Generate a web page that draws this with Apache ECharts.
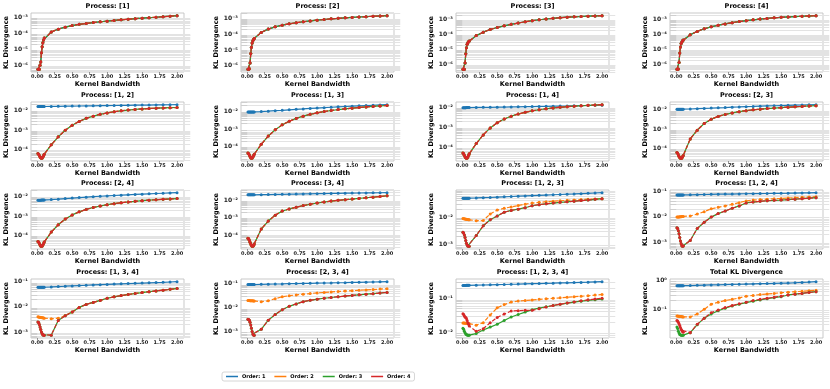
<!DOCTYPE html>
<html>
<head>
<meta charset="utf-8">
<script src="https://cdn.jsdelivr.net/npm/echarts@6/dist/echarts.min.js"></script>
<style>
  html, body { margin: 0; padding: 0; background: #fff; }
  #chart { width: 830px; height: 389px; }
</style>
</head>
<body>
<div id="chart"></div>
<script>
// kernel bandwidths (x)
const bandwidth = [0.01, 0.02, 0.03, 0.04, 0.05, 0.06, 0.07, 0.08, 0.09, 0.1,
  0.2, 0.3, 0.4, 0.5, 0.6, 0.7, 0.8, 0.9, 1.0, 1.1, 1.2, 1.3, 1.4, 1.5, 1.6, 1.7, 1.8, 1.9, 2.0];
const xTicks = [0, 0.25, 0.5, 0.75, 1, 1.25, 1.5, 1.75, 2];
const orderNames = ['Order: 1', 'Order: 2', 'Order: 3', 'Order: 4'];

// single processes: every order gives the same divergence
const p1 = [5.5e-7, 5.5e-7, 5.5e-7, 1.0e-6, 1.6e-6, 6e-6, 1.4e-5, 2.5e-5, 3.8e-5, 5e-5,
  1.2e-4, 1.8e-4, 2.4e-4, 3.0e-4, 3.6e-4, 4.1e-4, 4.6e-4, 5.2e-4, 5.7e-4, 6.3e-4, 6.9e-4, 7.5e-4, 8.1e-4, 8.7e-4, 9.4e-4, 1.0e-3, 1.08e-3, 1.16e-3, 1.25e-3];
const p2 = [6e-7, 6e-7, 6.5e-7, 1.5e-6, 6e-6, 1.5e-5, 2.8e-5, 3.8e-5, 4.6e-5, 5.4e-5,
  1.3e-4, 2.1e-4, 2.9e-4, 3.7e-4, 4.5e-4, 5.3e-4, 6.1e-4, 6.9e-4, 7.7e-4, 8.5e-4, 9.3e-4, 1.0e-3, 1.08e-3, 1.15e-3, 1.22e-3, 1.29e-3, 1.36e-3, 1.42e-3, 1.48e-3];
const p3 = [4.5e-7, 4.5e-7, 4.6e-7, 1.2e-6, 5e-6, 1.3e-5, 2.2e-5, 2.8e-5, 3.3e-5, 3.7e-5,
  8.5e-5, 1.45e-4, 2.2e-4, 3.0e-4, 3.9e-4, 4.9e-4, 6.0e-4, 7.3e-4, 8.6e-4, 1.0e-3, 1.12e-3, 1.25e-3, 1.37e-3, 1.48e-3, 1.58e-3, 1.66e-3, 1.73e-3, 1.8e-3, 1.88e-3];
const p4 = [5e-7, 5e-7, 5.2e-7, 1.4e-6, 6e-6, 1.5e-5, 2.5e-5, 3.2e-5, 3.8e-5, 4.3e-5,
  9.5e-5, 1.6e-4, 2.4e-4, 3.2e-4, 4.1e-4, 5.0e-4, 6.0e-4, 7.1e-4, 8.2e-4, 9.3e-4, 1.04e-3, 1.15e-3, 1.25e-3, 1.35e-3, 1.44e-3, 1.52e-3, 1.6e-3, 1.67e-3, 1.74e-3];

// pairs: order 1, then orders 2-4 (identical)
const p12_o1 = [1.6e-2, 1.6e-2, 1.6e-2, 1.6e-2, 1.6e-2, 1.6e-2, 1.61e-2, 1.61e-2, 1.61e-2, 1.61e-2,
  1.63e-2, 1.65e-2, 1.67e-2, 1.69e-2, 1.71e-2, 1.73e-2, 1.75e-2, 1.77e-2, 1.79e-2, 1.81e-2, 1.83e-2, 1.85e-2, 1.87e-2, 1.89e-2, 1.91e-2, 1.93e-2, 1.95e-2, 1.97e-2, 1.99e-2];
const p12_o2 = [6.5e-5, 6e-5, 5e-5, 4.3e-5, 3.9e-5, 3.7e-5, 3.8e-5, 4.3e-5, 5e-5, 6e-5,
  1.8e-4, 4.6e-4, 1.0e-3, 1.8e-3, 2.8e-3, 4.0e-3, 5.2e-3, 6.4e-3, 7.6e-3, 8.7e-3, 9.7e-3, 1.06e-2, 1.14e-2, 1.21e-2, 1.27e-2, 1.32e-2, 1.36e-2, 1.4e-2, 1.43e-2];
const p13_o1 = [8.8e-3, 8.8e-3, 8.8e-3, 8.8e-3, 8.8e-3, 8.9e-3, 8.9e-3, 8.9e-3, 9.0e-3, 9.0e-3,
  9.4e-3, 9.9e-3, 1.05e-2, 1.11e-2, 1.18e-2, 1.25e-2, 1.32e-2, 1.4e-2, 1.48e-2, 1.56e-2, 1.64e-2, 1.72e-2, 1.8e-2, 1.88e-2, 1.96e-2, 2.04e-2, 2.12e-2, 2.2e-2, 2.28e-2];
const p13_o2 = [4.6e-5, 4.2e-5, 3.5e-5, 2.9e-5, 2.5e-5, 2.3e-5, 2.4e-5, 2.7e-5, 3.2e-5, 3.9e-5,
  1.4e-4, 4.0e-4, 9.0e-4, 1.7e-3, 2.7e-3, 3.9e-3, 5.2e-3, 6.6e-3, 8.0e-3, 9.4e-3, 1.08e-2, 1.21e-2, 1.34e-2, 1.46e-2, 1.58e-2, 1.7e-2, 1.82e-2, 1.94e-2, 2.05e-2];
const p14_o1 = [9.5e-3, 9.5e-3, 9.5e-3, 9.5e-3, 9.5e-3, 9.6e-3, 9.6e-3, 9.6e-3, 9.6e-3, 9.6e-3,
  9.7e-3, 9.8e-3, 9.9e-3, 1.0e-2, 1.01e-2, 1.03e-2, 1.04e-2, 1.06e-2, 1.07e-2, 1.09e-2, 1.1e-2, 1.12e-2, 1.14e-2, 1.15e-2, 1.17e-2, 1.19e-2, 1.21e-2, 1.23e-2, 1.25e-2];
const p14_o2 = [5.5e-5, 5e-5, 4.2e-5, 3.6e-5, 3.2e-5, 3.0e-5, 3.1e-5, 3.5e-5, 4.2e-5, 5e-5,
  1.6e-4, 4.3e-4, 9.5e-4, 1.7e-3, 2.6e-3, 3.6e-3, 4.6e-3, 5.6e-3, 6.6e-3, 7.5e-3, 8.4e-3, 9.2e-3, 9.9e-3, 1.06e-2, 1.12e-2, 1.18e-2, 1.23e-2, 1.28e-2, 1.33e-2];
const p23_o1 = [1.07e-2, 1.07e-2, 1.07e-2, 1.07e-2, 1.07e-2, 1.08e-2, 1.08e-2, 1.08e-2, 1.08e-2, 1.08e-2,
  1.11e-2, 1.15e-2, 1.19e-2, 1.23e-2, 1.28e-2, 1.32e-2, 1.37e-2, 1.41e-2, 1.46e-2, 1.5e-2, 1.55e-2, 1.59e-2, 1.63e-2, 1.67e-2, 1.71e-2, 1.75e-2, 1.78e-2, 1.82e-2, 1.85e-2];
const p23_o2 = [6.3e-5, 5.8e-5, 4.8e-5, 4.0e-5, 3.5e-5, 3.2e-5, 3.2e-5, 3.3e-5, 3.8e-5, 4.5e-5,
  3.2e-4, 9.0e-4, 2.0e-3, 3.3e-3, 4.6e-3, 5.8e-3, 7.0e-3, 8.1e-3, 9.1e-3, 1.0e-2, 1.08e-2, 1.16e-2, 1.23e-2, 1.3e-2, 1.37e-2, 1.44e-2, 1.51e-2, 1.58e-2, 1.65e-2];
const p24_o1 = [6.5e-3, 6.5e-3, 6.5e-3, 6.5e-3, 6.5e-3, 6.6e-3, 6.6e-3, 6.6e-3, 6.6e-3, 6.6e-3,
  7.0e-3, 7.4e-3, 7.9e-3, 8.4e-3, 8.9e-3, 9.4e-3, 9.9e-3, 1.04e-2, 1.09e-2, 1.14e-2, 1.19e-2, 1.24e-2, 1.29e-2, 1.34e-2, 1.39e-2, 1.44e-2, 1.49e-2, 1.54e-2, 1.59e-2];
const p24_o2 = [5e-5, 4.6e-5, 3.9e-5, 3.3e-5, 2.9e-5, 2.8e-5, 2.9e-5, 3.3e-5, 3.9e-5, 4.6e-5,
  1.5e-4, 3.6e-4, 7.0e-4, 1.15e-3, 1.65e-3, 2.2e-3, 2.75e-3, 3.3e-3, 3.85e-3, 4.35e-3, 4.85e-3, 5.3e-3, 5.75e-3, 6.15e-3, 6.55e-3, 6.9e-3, 7.25e-3, 7.6e-3, 7.9e-3];
const p34_o1 = [2.1e-2, 2.1e-2, 2.1e-2, 2.1e-2, 2.1e-2, 2.11e-2, 2.11e-2, 2.11e-2, 2.11e-2, 2.11e-2,
  2.14e-2, 2.18e-2, 2.22e-2, 2.26e-2, 2.3e-2, 2.34e-2, 2.38e-2, 2.42e-2, 2.46e-2, 2.5e-2, 2.54e-2, 2.58e-2, 2.62e-2, 2.65e-2, 2.68e-2, 2.71e-2, 2.74e-2, 2.77e-2, 2.8e-2];
const p34_o2 = [6.5e-5, 6e-5, 5e-5, 3.8e-5, 3.0e-5, 2.5e-5, 2.2e-5, 2.2e-5, 2.5e-5, 3.0e-5,
  2.2e-4, 6.4e-4, 1.4e-3, 2.4e-3, 3.2e-3, 4.0e-3, 5.0e-3, 6.0e-3, 7.1e-3, 8.1e-3, 9.1e-3, 1.01e-2, 1.1e-2, 1.2e-2, 1.31e-2, 1.42e-2, 1.54e-2, 1.68e-2, 1.85e-2];

// triples: order 1, order 2, orders 3-4 (identical)
const p123_o1 = [4.9e-2, 4.9e-2, 4.9e-2, 4.9e-2, 4.9e-2, 4.92e-2, 4.92e-2, 4.92e-2, 4.92e-2, 4.92e-2,
  5.0e-2, 5.1e-2, 5.2e-2, 5.35e-2, 5.5e-2, 5.65e-2, 5.8e-2, 5.95e-2, 6.1e-2, 6.25e-2, 6.4e-2, 6.55e-2, 6.7e-2, 6.85e-2, 7.0e-2, 7.2e-2, 7.4e-2, 7.6e-2, 7.8e-2];
const p123_o2 = [8.8e-3, 8.7e-3, 8.6e-3, 8.5e-3, 8.4e-3, 8.3e-3, 8.2e-3, 8.1e-3, 8.0e-3, 7.9e-3,
  7.4e-3, 7.5e-3, 1.3e-2, 1.8e-2, 2.1e-2, 2.35e-2, 2.65e-2, 2.95e-2, 3.25e-2, 3.45e-2, 3.65e-2, 3.8e-2, 3.95e-2, 4.1e-2, 4.25e-2, 4.35e-2, 4.5e-2, 4.6e-2, 4.7e-2];
const p123_o3 = [2.8e-3, 2.6e-3, 2.2e-3, 1.8e-3, 1.4e-3, 1.1e-3, 9.5e-4, 8.8e-4, 8.5e-4, 8.6e-4,
  2.1e-3, 4.8e-3, 8.0e-3, 1.1e-2, 1.5e-2, 1.75e-2, 1.95e-2, 2.2e-2, 2.6e-2, 2.85e-2, 3.05e-2, 3.25e-2, 3.45e-2, 3.6e-2, 3.8e-2, 4.0e-2, 4.2e-2, 4.45e-2, 4.7e-2];
const p124_o1 = [7.0e-2, 7.0e-2, 7.0e-2, 7.0e-2, 7.0e-2, 7.02e-2, 7.02e-2, 7.02e-2, 7.02e-2, 7.02e-2,
  7.1e-2, 7.2e-2, 7.3e-2, 7.4e-2, 7.5e-2, 7.55e-2, 7.6e-2, 7.7e-2, 7.8e-2, 7.85e-2, 7.9e-2, 8.0e-2, 8.1e-2, 8.15e-2, 8.2e-2, 8.3e-2, 8.4e-2, 8.5e-2, 8.6e-2];
const p124_o2 = [9.5e-3, 9.5e-3, 9.5e-3, 9.6e-3, 9.7e-3, 9.8e-3, 9.9e-3, 1.0e-2, 1.0e-2, 1.01e-2,
  1.05e-2, 1.25e-2, 1.55e-2, 2.0e-2, 2.3e-2, 2.6e-2, 3.0e-2, 3.5e-2, 4.1e-2, 4.4e-2, 4.6e-2, 4.8e-2, 4.95e-2, 5.1e-2, 5.3e-2, 5.5e-2, 5.7e-2, 5.85e-2, 6.0e-2];
const p124_o3 = [3.6e-3, 3.4e-3, 2.8e-3, 2.1e-3, 1.5e-3, 1.1e-3, 8.5e-4, 7.2e-4, 6.8e-4, 7.0e-4,
  1.15e-3, 3.4e-3, 6.0e-3, 9.5e-3, 1.3e-2, 1.65e-2, 2.1e-2, 2.6e-2, 3.4e-2, 3.7e-2, 3.95e-2, 4.15e-2, 4.3e-2, 4.4e-2, 4.6e-2, 4.8e-2, 5.0e-2, 5.25e-2, 5.5e-2];
const p134_o1 = [6.0e-2, 6.0e-2, 6.0e-2, 6.0e-2, 6.0e-2, 6.02e-2, 6.02e-2, 6.02e-2, 6.02e-2, 6.02e-2,
  6.2e-2, 6.4e-2, 6.6e-2, 6.8e-2, 7.0e-2, 7.2e-2, 7.4e-2, 7.6e-2, 7.8e-2, 8.0e-2, 8.2e-2, 8.4e-2, 8.6e-2, 8.8e-2, 9.0e-2, 9.2e-2, 9.4e-2, 9.7e-2, 1.0e-1];
const p134_o2 = [4.0e-3, 3.95e-3, 3.9e-3, 3.85e-3, 3.8e-3, 3.75e-3, 3.7e-3, 3.65e-3, 3.6e-3, 3.55e-3,
  3.4e-3, 3.5e-3, 4.5e-3, 6.3e-3, 9.5e-3, 1.25e-2, 1.5e-2, 1.8e-2, 2.2e-2, 2.5e-2, 2.8e-2, 3.1e-2, 3.4e-2, 3.7e-2, 4.0e-2, 4.3e-2, 4.6e-2, 4.95e-2, 5.3e-2];
const p134_o3 = [2.5e-3, 2.4e-3, 2.0e-3, 1.6e-3, 1.25e-3, 1.0e-3, 8.5e-4, 7.8e-4, 7.5e-4, 7.4e-4,
  7.5e-4, 2.9e-3, 4.4e-3, 6.3e-3, 9.5e-3, 1.25e-2, 1.5e-2, 1.8e-2, 2.2e-2, 2.5e-2, 2.8e-2, 3.1e-2, 3.4e-2, 3.7e-2, 4.0e-2, 4.3e-2, 4.6e-2, 5.0e-2, 5.4e-2];
const p234_o1 = [9.4e-2, 9.4e-2, 9.4e-2, 9.4e-2, 9.4e-2, 9.42e-2, 9.42e-2, 9.42e-2, 9.42e-2, 9.42e-2,
  9.6e-2, 9.75e-2, 9.9e-2, 1.0e-1, 1.02e-1, 1.03e-1, 1.05e-1, 1.06e-1, 1.08e-1, 1.09e-1, 1.1e-1, 1.12e-1, 1.13e-1, 1.15e-1, 1.16e-1, 1.18e-1, 1.2e-1, 1.22e-1, 1.24e-1];
const p234_o2 = [2.0e-2, 2.0e-2, 2.0e-2, 1.99e-2, 1.98e-2, 1.97e-2, 1.96e-2, 1.95e-2, 1.94e-2, 1.93e-2,
  1.8e-2, 1.95e-2, 2.4e-2, 2.9e-2, 3.2e-2, 3.45e-2, 3.7e-2, 3.95e-2, 4.2e-2, 4.4e-2, 4.6e-2, 4.8e-2, 5.0e-2, 5.2e-2, 5.4e-2, 5.6e-2, 5.8e-2, 6.05e-2, 6.3e-2];
const p234_o3 = [3.3e-3, 3.2e-3, 3.0e-3, 2.5e-3, 1.9e-3, 1.4e-3, 1.0e-3, 8.0e-4, 7.2e-4, 7.0e-4,
  1.25e-3, 3.0e-3, 5.2e-3, 8.3e-3, 1.15e-2, 1.45e-2, 1.8e-2, 2.05e-2, 2.3e-2, 2.5e-2, 2.7e-2, 2.9e-2, 3.1e-2, 3.3e-2, 3.5e-2, 3.7e-2, 3.9e-2, 4.15e-2, 4.4e-2];

// all four processes
const p1234_o1 = [2.4e-1, 2.4e-1, 2.4e-1, 2.4e-1, 2.4e-1, 2.41e-1, 2.41e-1, 2.41e-1, 2.41e-1, 2.41e-1,
  2.44e-1, 2.47e-1, 2.5e-1, 2.53e-1, 2.56e-1, 2.6e-1, 2.63e-1, 2.67e-1, 2.7e-1, 2.73e-1, 2.77e-1, 2.8e-1, 2.84e-1, 2.87e-1, 2.91e-1, 2.95e-1, 2.99e-1, 3.05e-1, 3.1e-1];
const p1234_o2 = [1.85e-2, 1.85e-2, 1.84e-2, 1.83e-2, 1.82e-2, 1.81e-2, 1.8e-2, 1.79e-2, 1.78e-2, 1.77e-2,
  1.6e-2, 1.9e-2, 3.2e-2, 5.2e-2, 6.5e-2, 7.7e-2, 8.3e-2, 8.6e-2, 8.9e-2, 9.3e-2, 9.6e-2, 1.0e-1, 1.03e-1, 1.07e-1, 1.11e-1, 1.15e-1, 1.19e-1, 1.24e-1, 1.3e-1];
const p1234_o3 = [1.3e-2, 1.2e-2, 1.05e-2, 9.5e-3, 8.8e-3, 8.4e-3, 8.2e-3, 8.0e-3, 8.0e-3, 8.0e-3,
  9.0e-3, 1.15e-2, 1.4e-2, 1.7e-2, 2.2e-2, 2.8e-2, 3.3e-2, 3.9e-2, 4.6e-2, 5.1e-2, 5.6e-2, 6.1e-2, 6.6e-2, 7.2e-2, 7.7e-2, 8.2e-2, 8.7e-2, 9.1e-2, 9.5e-2];
const p1234_o4 = [3.5e-2, 3.3e-2, 3.0e-2, 2.8e-2, 2.7e-2, 2.5e-2, 2.2e-2, 1.9e-2, 1.7e-2, 1.5e-2,
  1.05e-2, 1.25e-2, 1.9e-2, 2.7e-2, 3.4e-2, 4.2e-2, 4.3e-2, 4.4e-2, 4.4e-2, 4.9e-2, 5.5e-2, 6.1e-2, 6.7e-2, 7.2e-2, 7.8e-2, 8.4e-2, 9.0e-2, 9.5e-2, 1.0e-1];

// total
const total_o1 = [6.4e-1, 6.4e-1, 6.4e-1, 6.4e-1, 6.4e-1, 6.42e-1, 6.42e-1, 6.42e-1, 6.42e-1, 6.42e-1,
  6.5e-1, 6.6e-1, 6.7e-1, 6.8e-1, 6.9e-1, 7.0e-1, 7.1e-1, 7.2e-1, 7.3e-1, 7.4e-1, 7.5e-1, 7.6e-1, 7.7e-1, 7.8e-1, 7.9e-1, 8.1e-1, 8.3e-1, 8.5e-1, 8.8e-1];
const total_o2 = [5.9e-2, 5.9e-2, 5.85e-2, 5.8e-2, 5.75e-2, 5.7e-2, 5.65e-2, 5.6e-2, 5.55e-2, 5.5e-2,
  5.5e-2, 7.0e-2, 1.0e-1, 1.5e-1, 1.75e-1, 2.0e-1, 2.2e-1, 2.45e-1, 2.8e-1, 3.0e-1, 3.2e-1, 3.35e-1, 3.5e-1, 3.7e-1, 3.85e-1, 4.0e-1, 4.15e-1, 4.3e-1, 4.5e-1];
const total_o3 = [2.5e-2, 2.2e-2, 1.8e-2, 1.55e-2, 1.4e-2, 1.35e-2, 1.3e-2, 1.3e-2, 1.3e-2, 1.3e-2,
  1.6e-2, 3.0e-2, 5.0e-2, 7.0e-2, 9.0e-2, 1.1e-1, 1.3e-1, 1.5e-1, 1.7e-1, 1.9e-1, 2.1e-1, 2.3e-1, 2.5e-1, 2.7e-1, 3.1e-1, 3.3e-1, 3.5e-1, 3.8e-1, 4.0e-1];
const total_o4 = [4.2e-2, 4.0e-2, 3.6e-2, 3.2e-2, 2.8e-2, 2.4e-2, 2.1e-2, 1.9e-2, 1.75e-2, 1.65e-2,
  1.6e-2, 3.1e-2, 5.0e-2, 7.7e-2, 9.5e-2, 1.15e-1, 1.35e-1, 1.55e-1, 1.75e-1, 2.0e-1, 2.2e-1, 2.4e-1, 2.6e-1, 2.8e-1, 3.1e-1, 3.3e-1, 3.5e-1, 3.75e-1, 4.0e-1];

const panels = [
  { title: 'Process: [1]', lines: [p1, p1, p1, p1] },
  { title: 'Process: [2]', lines: [p2, p2, p2, p2] },
  { title: 'Process: [3]', lines: [p3, p3, p3, p3] },
  { title: 'Process: [4]', lines: [p4, p4, p4, p4] },
  { title: 'Process: [1, 2]', lines: [p12_o1, p12_o2, p12_o2, p12_o2] },
  { title: 'Process: [1, 3]', lines: [p13_o1, p13_o2, p13_o2, p13_o2] },
  { title: 'Process: [1, 4]', lines: [p14_o1, p14_o2, p14_o2, p14_o2] },
  { title: 'Process: [2, 3]', lines: [p23_o1, p23_o2, p23_o2, p23_o2] },
  { title: 'Process: [2, 4]', lines: [p24_o1, p24_o2, p24_o2, p24_o2] },
  { title: 'Process: [3, 4]', lines: [p34_o1, p34_o2, p34_o2, p34_o2] },
  { title: 'Process: [1, 2, 3]', lines: [p123_o1, p123_o2, p123_o3, p123_o3] },
  { title: 'Process: [1, 2, 4]', lines: [p124_o1, p124_o2, p124_o3, p124_o3] },
  { title: 'Process: [1, 3, 4]', lines: [p134_o1, p134_o2, p134_o3, p134_o3] },
  { title: 'Process: [2, 3, 4]', lines: [p234_o1, p234_o2, p234_o3, p234_o3] },
  { title: 'Process: [1, 2, 3, 4]', lines: [p1234_o1, p1234_o2, p1234_o3, p1234_o4] },
  { title: 'Total KL Divergence', lines: [total_o1, total_o2, total_o3, total_o4] }
];

const colors = ['#1f77b4', '#ff7f0e', '#2ca02c', '#d62728'];
const dashes = ['solid', [4, 2], 'solid', [4, 2]];
const lefts = [31, 241, 456, 670];
const tops = [13, 102, 190, 279];
const W = 153, H = 59;
const FONT = 'DejaVu Sans';

const supChars = { '-': '\u207b', '0': '\u2070', '1': '\u00b9', '2': '\u00b2', '3': '\u00b3',
  '4': '\u2074', '5': '\u2075', '6': '\u2076', '7': '\u2077', '8': '\u2078', '9': '\u2079' };
function powLabel(v) {
  const l = Math.log10(v);
  const e = Math.round(l);
  if (Math.abs(l - e) > 1e-6) return '';
  return '10' + String(e).split('').map(c => supChars[c]).join('');
}

// log extent with matplotlib-like 5% margins
function logExtent(lines) {
  let lo = Infinity, hi = -Infinity;
  lines.forEach(a => a.forEach(v => {
    lo = Math.min(lo, Math.log10(v));
    hi = Math.max(hi, Math.log10(v));
  }));
  const pad = (hi - lo) * 0.05;
  return [lo - pad, hi + pad];
}

const grid = [], xAxis = [], yAxis = [], title = [], series = [];
panels.forEach((p, i) => {
  const col = i % 4, row = Math.floor(i / 4);
  const left = lefts[col], top = tops[row];
  const [lo, hi] = logExtent(p.lines);

  grid.push({ left: left, top: top, width: W, height: H, show: true,
    borderColor: '#bbbbbb', borderWidth: 0.8, backgroundColor: '#fff', outerBoundsMode: 'none' });

  title.push({ text: p.title, left: left + W / 2, top: top - 10, textAlign: 'center', padding: 0,
    textStyle: { fontFamily: FONT, fontSize: 6.5, fontWeight: 'bold', color: '#000' } });

  xAxis.push({
    gridIndex: i, type: 'value', min: -0.0895, max: 2.0995,
    name: 'Kernel Bandwidth', nameLocation: 'middle', nameGap: 9,
    nameTextStyle: { fontFamily: FONT, fontSize: 6.5, fontWeight: 'bold', color: '#000' },
    axisLine: { show: false },
    axisTick: { show: true, customValues: xTicks, length: 2, lineStyle: { color: '#555', width: 0.6 } },
    axisLabel: { customValues: xTicks, margin: 2, fontFamily: FONT, fontSize: 5, fontWeight: 'bold', color: '#222',
      formatter: v => v.toFixed(2) },
    splitLine: { show: false }
  });

  // minor gridlines at 2..9 x 10^k, drawn as full-width inside ticks
  const minors = [];
  for (let d = Math.floor(lo); d <= Math.ceil(hi); d++) {
    for (let m = 2; m <= 9; m++) {
      const lv = d + Math.log10(m);
      if (lv > lo && lv < hi) minors.push(m * Math.pow(10, d));
    }
  }

  yAxis.push({
    gridIndex: i, type: 'log', logBase: 10,
    min: Math.pow(10, lo), max: Math.pow(10, hi),
    name: 'KL Divergence', nameLocation: 'middle', nameGap: 16,
    nameTextStyle: { fontFamily: FONT, fontSize: 6.5, fontWeight: 'bold', color: '#000' },
    axisLine: { show: false },
    axisTick: { show: true, customValues: minors, inside: true, length: W,
      lineStyle: { color: '#e3e3e3', width: 1 } },
    axisLabel: { margin: 3, fontFamily: FONT, fontSize: 6, fontWeight: 'bold', color: '#222',
      formatter: powLabel },
    splitLine: { show: true, lineStyle: { color: '#cfcfcf', width: 1 } }
  });

  p.lines.forEach((vals, k) => {
    series.push({
      name: orderNames[k], type: 'line', xAxisIndex: i, yAxisIndex: i, z: 2 + k,
      data: bandwidth.map((x, j) => [x, vals[j]]),
      symbol: 'circle', symbolSize: 3, showSymbol: true,
      itemStyle: { color: colors[k] },
      lineStyle: { color: colors[k], width: 1.2, type: dashes[k] },
      emphasis: { disabled: true }
    });
  });
});

const chart = echarts.init(document.getElementById('chart'), null, { renderer: 'canvas' });
chart.setOption({
  animation: false,
  backgroundColor: '#fff',
  title: title,
  grid: grid,
  xAxis: xAxis,
  yAxis: yAxis,
  legend: {
    data: orderNames, left: 222, top: 372, orient: 'horizontal',
    icon: 'rect', itemWidth: 12, itemHeight: 1.5, itemGap: 9,
    padding: [2, 4], borderColor: '#cccccc', borderWidth: 0.8, borderRadius: 2,
    textStyle: { fontFamily: FONT, fontSize: 5, fontWeight: 'bold', color: '#000', padding: [0, 0, 0, -1] }
  },
  series: series
});
</script>
</body>
</html>
